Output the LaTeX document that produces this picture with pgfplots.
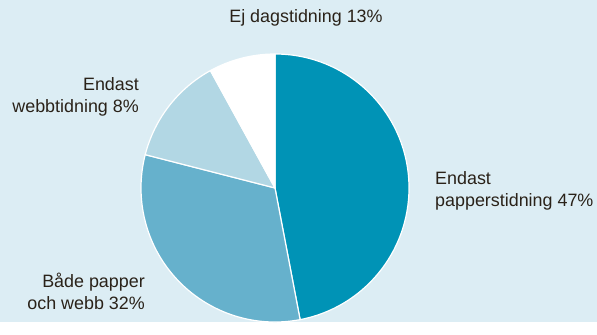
\documentclass[border=0pt]{standalone}
\usepackage{pgfplots}
\pgfplotsset{compat=1.18}
\usepackage{pgfplotstable}
\usepackage{fontspec}
\setmainfont{Liberation Sans}

\definecolor{bgcol}{HTML}{DCEDF4}
\definecolor{darkteal}{HTML}{0093B6}
\definecolor{midblue}{HTML}{66B1CC}
\definecolor{lightblue}{HTML}{B2D7E4}
\definecolor{txt}{HTML}{2A2219}

% share of readers, clockwise from 12 o'clock
\pgfplotstableread{
pct col
47 darkteal
32 midblue
13 lightblue
8  white
}\pietable

\begin{document}
\begin{tikzpicture}
\begin{axis}[
  hide axis,
  x=1pt, y=1pt,
  xmin=0, xmax=597, ymin=0, ymax=322,
  clip=false,
]
  \fill[bgcol] (rel axis cs:0,0) rectangle (rel axis cs:1,1);
  \gdef\astart{90}
  \pgfplotsforeachungrouped \i in {0,...,3}{
    \pgfplotstablegetelem{\i}{pct}\of\pietable \let\p\pgfplotsretval
    \pgfplotstablegetelem{\i}{col}\of\pietable \let\c\pgfplotsretval
    \pgfmathsetmacro\aend{\astart-3.6*\p}
    \edef\temp{\noexpand\filldraw[fill=\c, draw=white, line width=1.2pt, line join=round]
      (axis cs:275,134) -- ++(\astart:134pt)
      arc[start angle=\astart, end angle=\aend, radius=134pt] -- cycle;}
    \temp
    \global\let\astart\aend
  }
  \begin{scope}[every node/.style={text=txt, font=\fontsize{17.9}{21.8}\selectfont, inner sep=0pt}]
    \node[anchor=center] at (axis cs:306,304) {Ej dagstidning 13\%};
    \node[anchor=east, align=right] at (axis cs:139,225) {Endast\\webbtidning 8\%};
    \node[anchor=west, align=left] at (axis cs:435,131) {Endast\\papperstidning 47\%};
    \node[anchor=east, align=right] at (axis cs:145,31) {Både papper\\och webb 32\%};
  \end{scope}
\end{axis}
\end{tikzpicture}
\end{document}
